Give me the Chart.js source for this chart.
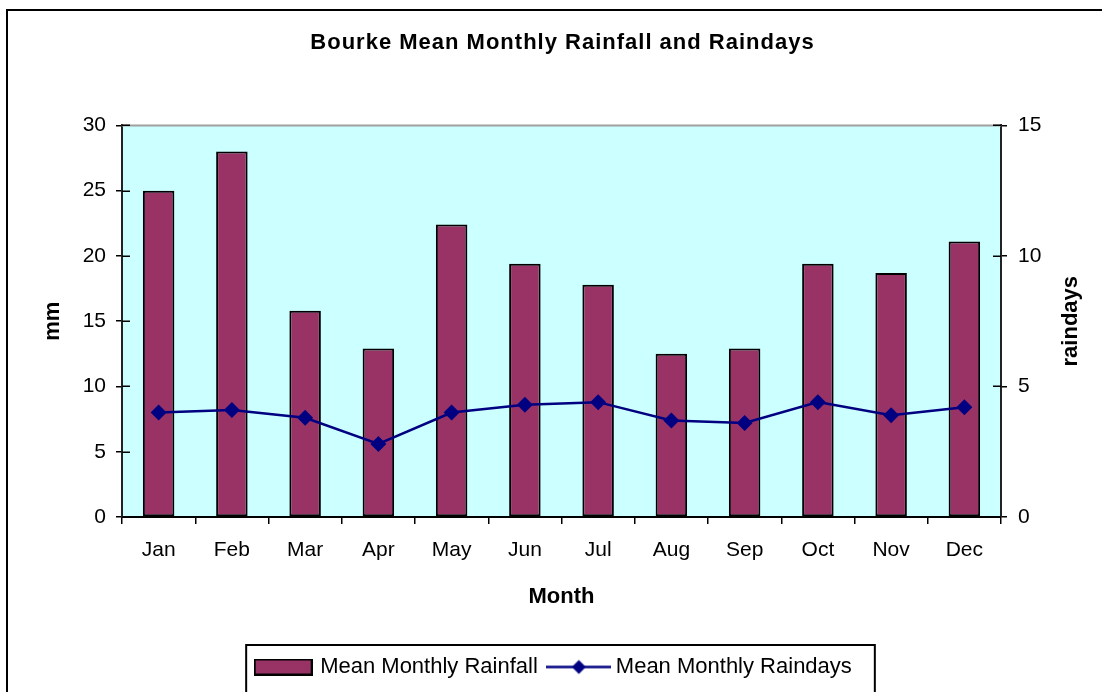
<!DOCTYPE html>
<html>
<head>
<meta charset="utf-8">
<title>Bourke Mean Monthly Rainfall and Raindays</title>
<script src="https://cdn.jsdelivr.net/npm/chart.js@4.4.0/dist/chart.umd.min.js"></script>
<style>
  html, body { margin: 0; padding: 0; background: #fff; }
</style>
</head>
<body>
<canvas id="rainChart" width="1102" height="692"></canvas>
<script>
// chart data
const months = ['Jan', 'Feb', 'Mar', 'Apr', 'May', 'Jun', 'Jul', 'Aug', 'Sep', 'Oct', 'Nov', 'Dec'];
const rainfall = [25.0, 28.0, 15.8, 12.9, 22.4, 19.4, 17.8, 12.5, 12.9, 19.4, 18.7, 21.1];
const raindays = [4.0, 4.1, 3.8, 2.8, 4.0, 4.3, 4.4, 3.7, 3.6, 4.4, 3.9, 4.2];
const mmTicks = [0, 5, 10, 15, 20, 25, 30];
const dayTicks = [0, 5, 10, 15];
const seriesNames = ['Mean Monthly Rainfall', 'Mean Monthly Raindays'];

const FONT = "'Liberation Sans', Arial, sans-serif";
const BAR = '#993366';
const LINE = '#000080';

// little pictures for the legend entries
function swatch(w, h, paint) {
  const c = document.createElement('canvas');
  c.width = w;
  c.height = h;
  paint(c.getContext('2d'));
  return c;
}
const barSwatch = swatch(59, 17, g => {
  g.fillStyle = BAR;
  g.fillRect(1, 1, 57, 15);
  g.strokeStyle = '#000';
  g.lineWidth = 2;
  g.strokeRect(1, 1, 57, 15);
});
const lineSwatch = swatch(65, 17, g => {
  g.strokeStyle = LINE;
  g.lineWidth = 2.5;
  g.beginPath();
  g.moveTo(0, 8.5);
  g.lineTo(65, 8.5);
  g.stroke();
  g.fillStyle = LINE;
  g.beginPath();
  g.moveTo(32.5, 1.5);
  g.lineTo(39.5, 8.5);
  g.lineTo(32.5, 15.5);
  g.lineTo(25.5, 8.5);
  g.closePath();
  g.fill();
});
const swatches = [barSwatch, lineSwatch];

// plot background, frame, inner tick marks, right title, legend box
const decor = {
  id: 'decor',
  beforeDraw(chart) {
    const tb = chart.titleBlock;
    if (tb && !tb._spaced) {
      const orig = tb.draw;
      tb.draw = function () {
        this.ctx.save();
        this.ctx.letterSpacing = '1px';
        this.ctx.translate(8, 0);
        orig.apply(this, arguments);
        this.ctx.restore();
      };
      tb._spaced = true;
    }
    const {ctx, chartArea: a} = chart;
    ctx.save();
    ctx.fillStyle = '#fff';
    ctx.fillRect(0, 0, chart.width, chart.height);
    ctx.fillStyle = '#ccffff';
    ctx.fillRect(a.left, a.top, a.right - a.left, a.bottom - a.top);
    ctx.strokeStyle = '#000';
    ctx.lineWidth = 2;
    ctx.beginPath();
    ctx.moveTo(7, chart.height + 5);
    ctx.lineTo(7, 10);
    ctx.lineTo(chart.width + 5, 10);
    ctx.stroke();
    ctx.restore();
  },
  beforeDatasetsDraw(chart) {
    const {ctx, chartArea: a, scales} = chart;
    ctx.save();
    ctx.strokeStyle = '#a0a0a0';
    ctx.lineWidth = 2;
    ctx.beginPath();
    ctx.moveTo(a.left, a.top);
    ctx.lineTo(a.right, a.top);
    ctx.stroke();
    ctx.strokeStyle = '#000';
    ctx.lineWidth = 1.5;
    ctx.beginPath();
    scales.y.ticks.forEach(t => {
      const py = Math.round(scales.y.getPixelForValue(t.value)) + 0.25;
      ctx.moveTo(a.left, py);
      ctx.lineTo(a.left + 8, py);
    });
    scales.y2.ticks.forEach(t => {
      const py = Math.round(scales.y2.getPixelForValue(t.value)) + 0.25;
      ctx.moveTo(a.right - 8, py);
      ctx.lineTo(a.right, py);
    });
    ctx.stroke();
    ctx.restore();
  },
  afterDraw(chart) {
    const {ctx, chartArea: a} = chart;
    ctx.save();
    ctx.translate(1071, (a.top + a.bottom) / 2);
    ctx.rotate(-Math.PI / 2);
    ctx.font = 'bold 22px ' + FONT;
    ctx.fillStyle = '#000';
    ctx.textAlign = 'center';
    ctx.textBaseline = 'middle';
    ctx.fillText('raindays', 0, 0);
    ctx.restore();

    const boxes = chart.legend.legendHitBoxes;
    if (boxes && boxes.length) {
      const first = boxes[0];
      const last = boxes[boxes.length - 1];
      const left = first.left - 11;
      const top = first.top - 11;
      const right = last.left + last.width + 23;
      ctx.save();
      ctx.strokeStyle = '#000';
      ctx.lineWidth = 2;
      ctx.beginPath();
      ctx.moveTo(left, chart.height + 5);
      ctx.lineTo(left, top);
      ctx.lineTo(right, top);
      ctx.lineTo(right, chart.height + 5);
      ctx.stroke();
      ctx.restore();
    }
  }
};

const ctx = document.getElementById('rainChart').getContext('2d');

const chart = new Chart(ctx, {
  data: {
    labels: months,
    datasets: [
      {
        type: 'bar',
        label: seriesNames[0],
        data: rainfall,
        yAxisID: 'y',
        backgroundColor: BAR,
        borderColor: '#000',
        borderWidth: 2,
        borderSkipped: false,
        barPercentage: 0.43,
        categoryPercentage: 1,
        order: 2
      },
      {
        type: 'line',
        label: seriesNames[1],
        data: raindays,
        yAxisID: 'y2',
        borderColor: LINE,
        borderWidth: 2.5,
        pointStyle: 'rectRot',
        pointRadius: 8,
        pointBackgroundColor: LINE,
        pointBorderColor: LINE,
        pointBorderWidth: 0,
        tension: 0,
        fill: false,
        order: 1
      }
    ]
  },
  options: {
    responsive: false,
    animation: false,
    devicePixelRatio: 1,
    events: [],
    layout: { padding: { left: 7, top: 11, right: 0, bottom: 4 } },
    plugins: {
      title: {
        display: true,
        text: 'Bourke Mean Monthly Rainfall and Raindays',
        color: '#000',
        font: { family: FONT, size: 22, weight: 'bold' },
        padding: { top: 19, bottom: 69 }
      },
      legend: {
        position: 'bottom',
        labels: {
          usePointStyle: true,
          pointStyleWidth: 52,
          padding: 15,
          color: '#000',
          font: { family: FONT, size: 22 },
          generateLabels(chart) {
            const items = Chart.defaults.plugins.legend.labels.generateLabels(chart);
            items.forEach(it => { it.pointStyle = swatches[it.datasetIndex]; });
            return items.sort((p, q) => p.datasetIndex - q.datasetIndex);
          }
        }
      },
      tooltip: { enabled: false }
    },
    scales: {
      x: {
        offset: true,
        grid: { offset: true, drawOnChartArea: false, tickLength: 7, color: '#000', lineWidth: 1.5 },
        border: { display: true, color: '#000', width: 2 },
        ticks: { color: '#000', font: { family: FONT, size: 21 }, padding: 14, maxRotation: 0, autoSkip: false },
        title: {
          display: true,
          text: 'Month',
          color: '#000',
          font: { family: FONT, size: 22, weight: 'bold' },
          padding: { top: 0, bottom: 31 }
        },
        afterFit(s) { s.height = 124; }
      },
      y: {
        position: 'left',
        min: mmTicks[0],
        max: mmTicks[mmTicks.length - 1],
        afterBuildTicks(s) { s.ticks = mmTicks.map(value => ({ value })); },
        grid: { drawOnChartArea: false, tickLength: 6, color: '#000', lineWidth: 1.5 },
        border: { display: true, color: '#222', width: 2 },
        ticks: { color: '#000', font: { family: FONT, size: 21 }, padding: 10 },
        title: {
          display: true,
          text: 'mm',
          color: '#000',
          font: { family: FONT, size: 22, weight: 'bold' },
          padding: { top: 33, bottom: 0 }
        },
        afterFit(s) { s.width = 115; }
      },
      y2: {
        position: 'right',
        min: dayTicks[0],
        max: dayTicks[dayTicks.length - 1],
        afterBuildTicks(s) { s.ticks = dayTicks.map(value => ({ value })); },
        grid: { drawOnChartArea: false, tickLength: 6, color: '#000', lineWidth: 1.5 },
        border: { display: true, color: '#222', width: 2 },
        ticks: { color: '#000', font: { family: FONT, size: 21 }, padding: 11 },
        afterFit(s) { s.width = 101; }
      }
    }
  },
  plugins: [decor]
});
</script>
</body>
</html>
